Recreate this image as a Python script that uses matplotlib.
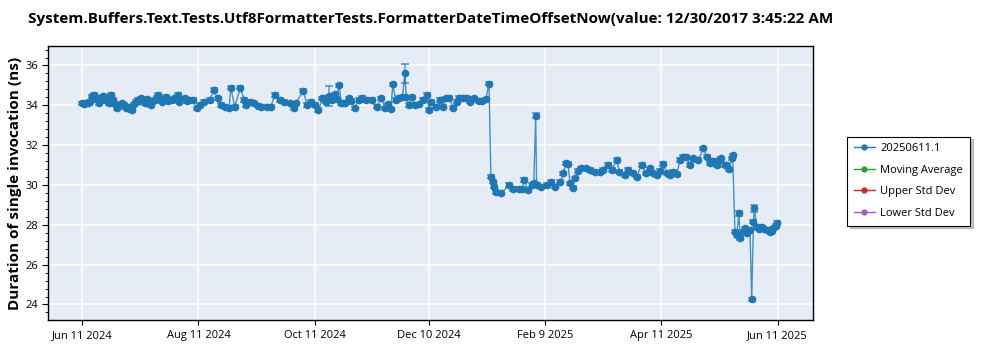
import pandas as pd
import matplotlib.pyplot as plt
from matplotlib.ticker import AutoMinorLocator, MultipleLocator

plt.rcParams['font.family'] = ['Open Sans', 'DejaVu Sans']

title = 'System.Buffers.Text.Tests.Utf8FormatterTests.FormatterDateTimeOffsetNow(value: 12/30/2017 3:45:22 AM'
series_name = '20250611.1'
start_date = '2024-06-11'

# days after start_date
days = [0, 1, 2, 3, 4, 5, 6, 7, 8, 9, 10, 11, 12, 13, 14, 15, 16, 17, 18, 19,
        20, 21, 22, 23, 24, 25, 26, 27, 28, 29, 30, 31, 32, 33, 34, 35, 36, 37, 38, 39,
        40, 41, 42, 43, 44, 45, 47, 48, 50, 51, 52, 54, 55, 56, 58, 60, 62, 64, 67, 69,
        71, 73, 75, 77, 78, 80, 83, 85, 86, 88, 90, 92, 94, 97, 99, 101, 104, 106, 109, 111,
        112, 116, 118, 120, 122, 124, 126, 127.4, 128, 129.5, 131, 132.7, 133.5, 134.8, 136, 137, 138, 140, 141, 143,
        145, 147, 149, 152, 154.5, 157, 159, 160.6, 162, 163, 164.5, 166, 168, 169.4, 170, 171.5, 173, 174.6, 177, 179,
        181, 182, 183, 185.7, 188, 189.5, 191, 192.5, 194.8, 196.5, 198, 200, 202, 203.5, 205.8, 208, 210, 211.8, 213.5, 214.5,
        215.4, 216.3, 217.2, 220, 224, 226, 229, 231, 232, 234, 236, 237, 238, 238.5, 241, 244, 246, 248, 251, 252.5,
        254, 255, 256, 257.4, 258.6, 260.4, 262, 264.4, 266.5, 269, 272, 273.6, 276, 278, 280.5, 282, 285, 286.7, 289, 291,
        293.6, 296, 298, 299.7, 301.5, 303, 305, 306.8, 308.5, 310, 312, 313.8, 315.5, 317, 319, 320.7, 323.4, 326, 327.8, 329.5,
        331, 333, 334.7, 335.5, 337.4, 338, 339.6, 341, 341.4, 342.6, 343.5, 344.7, 345.3, 346.7, 348, 349, 350.5, 351.4, 352.3, 352.8,
        354, 355.3, 356.6, 358, 359.3, 361, 362, 362.7, 364, 364.8]

# mean duration (ns)
values = [34.10, 34.08, 34.12, 34.10, 34.18, 34.45, 34.52, 34.30, 34.35, 34.10, 34.25, 34.45, 34.43, 34.20, 34.10, 34.52, 34.27, 34.05, 33.85, 33.95,
          34.02, 34.10, 34.02, 33.88, 33.93, 33.80, 33.76, 34.05, 34.18, 34.27, 34.20, 34.35, 34.25, 34.10, 34.30, 34.18, 34.02, 34.20, 34.27, 34.40,
          34.52, 34.30, 34.18, 34.25, 34.43, 34.20, 34.27, 34.35, 34.52, 34.18, 34.30, 34.35, 34.20, 34.27, 34.27, 33.85, 34.02, 34.18, 34.27, 34.77,
          34.35, 34.02, 33.93, 33.85, 34.88, 33.93, 34.88, 34.27, 34.02, 34.18, 34.10, 33.97, 33.93, 33.93, 33.93, 34.52, 34.27, 34.18, 34.10, 33.85,
          34.10, 34.74, 34.02, 34.18, 34.02, 33.76, 34.35, 34.35, 34.18, 34.45, 34.27, 34.55, 34.30, 35.00, 34.10, 34.10, 34.10, 34.35, 34.22, 33.85,
          34.27, 34.38, 34.27, 34.27, 33.93, 34.35, 33.85, 34.05, 33.80, 35.05, 34.27, 34.38, 34.40, 35.60, 34.40, 34.02, 34.40, 34.02, 34.05, 34.27,
          34.52, 33.76, 34.18, 33.93, 34.27, 33.93, 34.35, 34.38, 33.88, 34.18, 34.38, 34.38, 34.35, 34.18, 34.35, 34.22, 34.22, 34.30, 35.09, 30.41,
          30.16, 29.91, 29.63, 29.58, 30.00, 29.80, 29.80, 29.80, 30.25, 29.74, 30.00, 30.08, 33.48, 30.00, 29.91, 30.00, 30.16, 29.91, 30.16, 30.58,
          31.09, 31.05, 30.08, 29.86, 30.33, 30.70, 30.83, 30.83, 30.75, 30.63, 30.63, 30.75, 31.00, 30.75, 31.25, 30.66, 30.50, 30.75, 30.58, 30.41,
          31.00, 30.58, 30.83, 30.58, 30.50, 30.70, 31.05, 30.58, 30.50, 30.66, 30.53, 31.25, 31.42, 31.42, 31.00, 31.34, 31.25, 31.84, 31.42, 31.09,
          31.20, 31.00, 31.25, 31.34, 31.00, 31.00, 30.78, 31.34, 31.50, 27.65, 27.48, 28.57, 27.32, 27.65, 27.82, 27.57, 27.73, 24.25, 28.15, 28.82,
          27.90, 27.80, 27.87, 27.78, 27.73, 27.65, 27.70, 27.82, 27.95, 28.10]

# error bar half-widths (ns): small everywhere except a few runs
errors = [0.08] * len(values)
larger_errors = {89: 0.50, 113: 0.48, 152: 0.12, 211: 0.12, 217: 0.08, 219: 0.18}
for i, e in larger_errors.items():
    errors[i] = e

tick_dates = ['2024-06-11', '2024-08-11', '2024-10-11', '2024-12-10', '2025-02-09', '2025-04-11', '2025-06-11']
tick_labels = ['Jun 11 2024', 'Aug 11 2024', 'Oct 11 2024', 'Dec 10 2024', 'Feb 9 2025', 'Apr 11 2025', 'Jun 11 2025']

dates = pd.Timestamp(start_date) + pd.to_timedelta(days, unit='D')

fig = plt.figure(figsize=(10, 3.5), dpi=100)
ax = fig.add_axes([0.0483, 0.0857, 0.7644, 0.783])
ax.set_facecolor('#e5ecf6')

blue = '#1f77b4'
ax.plot(dates, values, color=blue, linewidth=1, alpha=0.8, zorder=3)
ax.errorbar(dates, values, yerr=errors, fmt='none', ecolor=blue, elinewidth=1.2,
            capsize=3, capthick=1.5, alpha=0.6, zorder=3)
ax.plot(dates, values, 'o', color=blue, markersize=4.5, zorder=4)

# legend handles (the average / std dev series have no visible points)
h1, = ax.plot([], [], '-o', color=blue, markersize=3.5, linewidth=1, label=series_name)
h2, = ax.plot([], [], '-o', color='#2ca02c', markersize=3.5, linewidth=1, label='Moving Average')
h3, = ax.plot([], [], '-o', color='#d62728', markersize=3.5, linewidth=1, label='Upper Std Dev')
h4, = ax.plot([], [], '-o', color='#9467bd', markersize=3.5, linewidth=1, label='Lower Std Dev')

ax.set_xlim(pd.Timestamp('2024-05-24 04:00'), pd.Timestamp('2025-06-29 10:00'))
ax.set_ylim(23.22, 36.98)
ax.set_xticks(pd.to_datetime(tick_dates))
ax.set_xticklabels(tick_labels)
ax.yaxis.set_major_locator(MultipleLocator(2))
ax.yaxis.set_minor_locator(AutoMinorLocator(5))
ax.tick_params(axis='both', labelsize=8, colors='black')
ax.tick_params(axis='y', which='major', length=4)
ax.tick_params(axis='y', which='minor', length=2)

ax.grid(True, color='white', linewidth=1.2)
ax.set_axisbelow(True)
for side in ['top', 'right', 'bottom', 'left']:
    ax.spines[side].set_color('black')
    ax.spines[side].set_linewidth(1)

ax.set_ylabel('Duration of single invocation (ns)', fontsize=11, fontweight='bold')
ax.yaxis.set_label_coords(-0.035, 0.5)
fig.text(0.431, 0.945, title, ha='center', va='center', fontsize=11, fontweight='bold')

leg = fig.legend(handles=[h1, h2, h3, h4], loc='upper left', bbox_to_anchor=(0.847, 0.61),
                 fontsize=8, frameon=True, fancybox=False, shadow={'color': '0.55'},
                 handlelength=1.9, handletextpad=0.5, borderpad=0.6, labelspacing=0.95,
                 borderaxespad=0)
leg.get_frame().set_edgecolor('black')
leg.get_frame().set_linewidth(0.8)

fig.savefig('out.png', dpi=100)
